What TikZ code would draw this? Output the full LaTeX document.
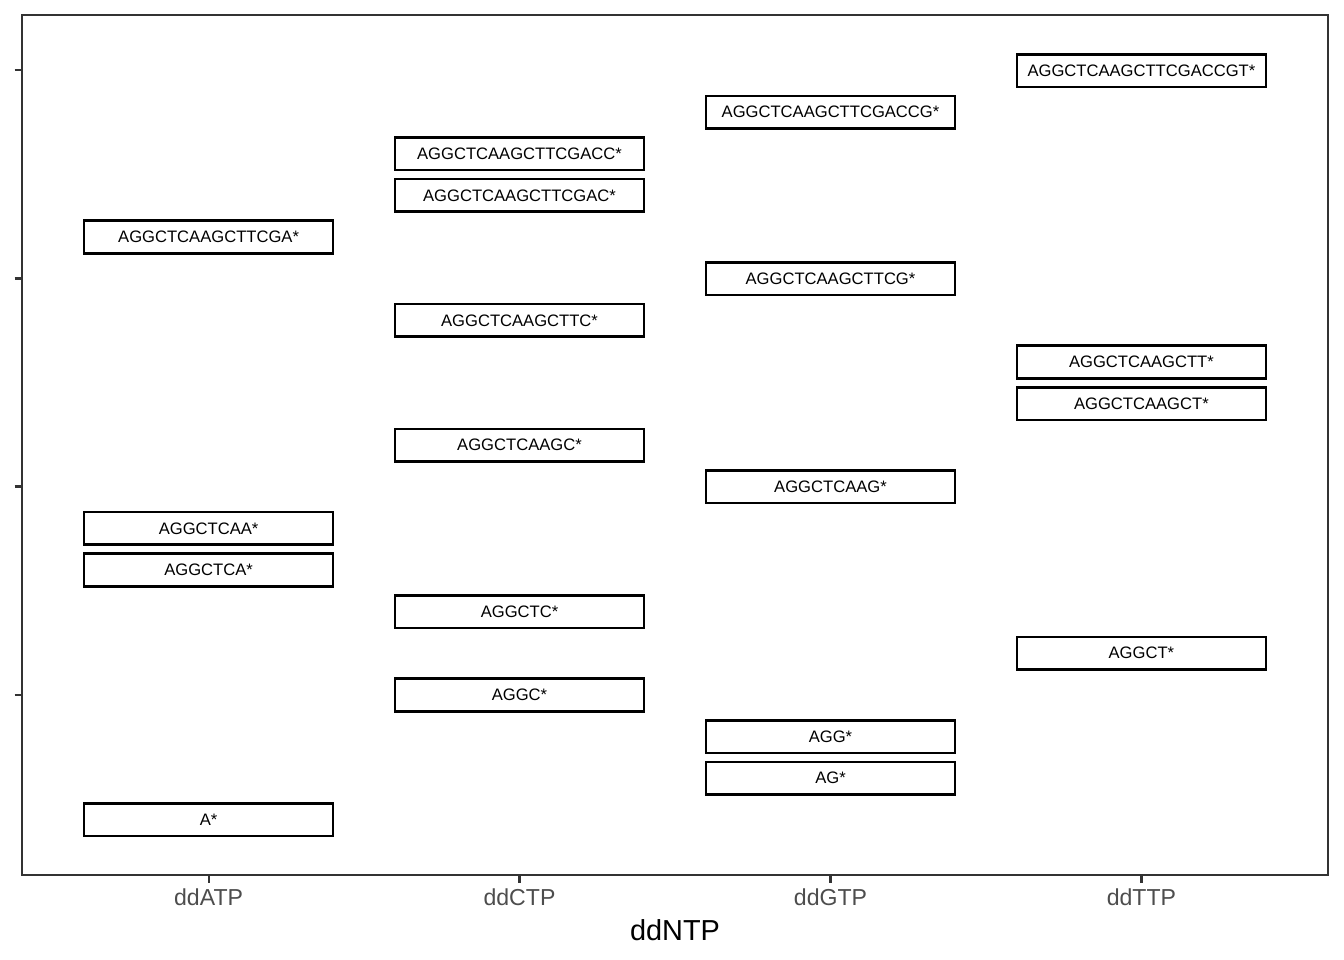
\documentclass[tikz,border=0pt]{standalone}
\usepackage{fontspec}
\setmainfont{Liberation Sans}
\definecolor{axisgray}{HTML}{333333}
\definecolor{labgray}{HTML}{4D4D4D}
\begin{document}
\begin{tikzpicture}[x=1pt,y=-1pt,
  seqbox/.style={draw=black,line width=2.6pt,minimum width=249pt,minimum height=32.6pt,inner sep=0pt,
    font=\fontsize{16.6}{19}\selectfont},
  ticklab/.style={text=labgray,font=\fontsize{23.1}{26}\selectfont},
  tickline/.style={draw=axisgray,line width=2.2pt},
]
\useasboundingbox[fill=white] (0,0) rectangle (1344,960);
% column centres
\def\ca{208.6}\def\cb{519.5}\def\cc{830.5}\def\cd{1141.4}
\newcommand{\yof}[1]{\fpeval{70.6+(19-#1)*41.62}}
% panel
\draw[axisgray,line width=1.1pt] (22,15) rectangle (1328,875);
% y ticks
\foreach \v in {70.3,278.4,486.5,694.6} \draw[tickline] (14.5,\v) -- (22,\v);
% x ticks
\foreach \c in {\ca,\cb,\cc,\cd} \draw[tickline] (\c,875) -- (\c,882.5);
% tick labels
\node[ticklab] (la) at (\ca,897) {ddATP};
\node[ticklab] (lb) at (\cb,897) {ddCTP};
\node[ticklab] (lc) at (\cc,897) {ddGTP};
\node[ticklab] (ld) at (\cd,897) {ddTTP};
\node[font=\fontsize{28.9}{32}\selectfont] (xt) at (675,930) {ddNTP};
% ddATP
\node[seqbox] (a15) at (\ca,\yof{15}) {AGGCTCAAGCTTCGA*};
\node[seqbox] (a8) at (\ca,\yof{8}) {AGGCTCAA*};
\node[seqbox] (a7) at (\ca,\yof{7}) {AGGCTCA*};
\node[seqbox] (a1) at (\ca,\yof{1}) {A*};
% ddCTP
\node[seqbox] (c17) at (\cb,\yof{17}) {AGGCTCAAGCTTCGACC*};
\node[seqbox] (c16) at (\cb,\yof{16}) {AGGCTCAAGCTTCGAC*};
\node[seqbox] (c13) at (\cb,\yof{13}) {AGGCTCAAGCTTC*};
\node[seqbox] (c10) at (\cb,\yof{10}) {AGGCTCAAGC*};
\node[seqbox] (c6) at (\cb,\yof{6}) {AGGCTC*};
\node[seqbox] (c4) at (\cb,\yof{4}) {AGGC*};
% ddGTP
\node[seqbox] (g18) at (\cc,\yof{18}) {AGGCTCAAGCTTCGACCG*};
\node[seqbox] (g14) at (\cc,\yof{14}) {AGGCTCAAGCTTCG*};
\node[seqbox] (g9) at (\cc,\yof{9}) {AGGCTCAAG*};
\node[seqbox] (g3) at (\cc,\yof{3}) {AGG*};
\node[seqbox] (g2) at (\cc,\yof{2}) {AG*};
% ddTTP
\node[seqbox] (t19) at (\cd,\yof{19}) {AGGCTCAAGCTTCGACCGT*};
\node[seqbox] (t12) at (\cd,\yof{12}) {AGGCTCAAGCTT*};
\node[seqbox] (t11) at (\cd,\yof{11}) {AGGCTCAAGCT*};
\node[seqbox] (t5) at (\cd,\yof{5}) {AGGCT*};
\end{tikzpicture}
\end{document}
